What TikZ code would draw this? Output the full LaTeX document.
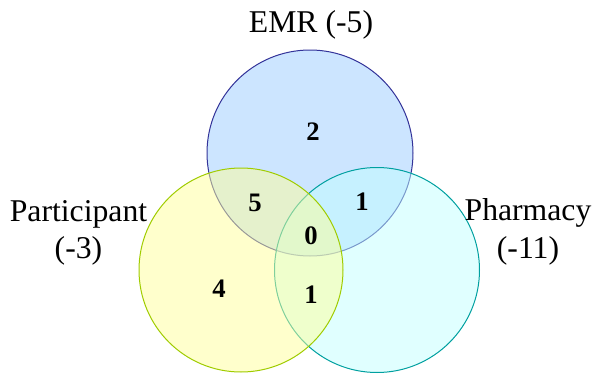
\documentclass[tikz,border=0pt]{standalone}
\usepackage{fontspec}
\setmainfont{Liberation Serif}
\definecolor{emrfill}{HTML}{99CBFF}
\definecolor{emrline}{HTML}{333399}
\definecolor{parfill}{HTML}{FFFF99}
\definecolor{parline}{HTML}{A0CC00}
\definecolor{phafill}{HTML}{C1FFFF}
\definecolor{phaline}{HTML}{00A0A0}
\tikzset{
  setcircle/.style={circle, inner sep=0pt, fill opacity=0.5, line width=1pt},
  setlabel/.style={inner sep=0pt, font=\fontsize{31.7}{37}\selectfont},
  count/.style={inner sep=0pt, font=\fontsize{26.7}{30}\selectfont\bfseries}
}
\begin{document}
\begin{tikzpicture}[x=1pt,y=-1pt]
\useasboundingbox (0,0) rectangle (595,375);
\node[setcircle, draw=emrline, fill=emrfill, minimum size=206pt] (emr) at (310,153) {};
\node[setcircle, draw=phaline, fill=phafill, minimum size=205pt] (pha) at (377,270) {};
\node[setcircle, draw=parline, fill=parfill, minimum size=204pt] (par) at (241,270) {};
\node[setlabel, anchor=base] (emrlab) at (311,32) {EMR (-5)};
\node[setlabel, anchor=base] (parlab1) at (78.5,221) {Participant};
\node[setlabel, anchor=base] (parlab2) at (78.5,258) {(-3)};
\node[setlabel, anchor=base] (phalab1) at (528,220) {Pharmacy};
\node[setlabel, anchor=base] (phalab2) at (528,258) {(-11)};
\node[count] (n2) at (313,132) {2};
\node[count] (n5) at (255,203) {5};
\node[count] (n1a) at (362,202) {1};
\node[count] (n0) at (311,236) {0};
\node[count] (n4) at (219,289) {4};
\node[count] (n1b) at (311,295) {1};
\end{tikzpicture}
\end{document}
